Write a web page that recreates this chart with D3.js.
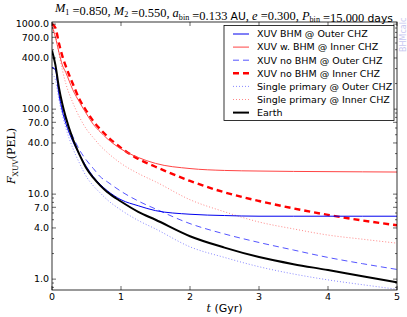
<!DOCTYPE html>
<html><head><meta charset="utf-8">
<script src="https://cdn.jsdelivr.net/npm/d3@7"></script>
<style>body{margin:0;background:#fff}svg{display:block}</style>
</head><body><div id="chart"></div>
<script>
const times = [0,0.05,0.1,0.15,0.2,0.3,0.4,0.5,0.6,0.7,0.8,1.0,1.25,1.5,2,2.5,3,3.5,4,4.5,5];
const bhmOuter   = [310,290,150,95,68,42,29,21,16,13,11,8.6,7.3,6.4,5.8,5.6,5.5,5.5,5.5,5.5,5.5];
const bhmInner   = [950,700,470,330,270,170,120,88,66,54,45,34,27,23,20,19,18.7,18.5,18.4,18.3,18.2];
const noBhmOuter = [310,290,160,100,75,48,33,25,20,16,14,10.8,8.3,6.7,4.5,3.4,2.7,2.2,1.8,1.52,1.3];
const noBhmInner = [1000,900,600,420,320,200,130,95,72,58,48,35,26,21,14.3,10.5,8.3,6.8,5.7,4.9,4.3];
const singleOuter= [260,220,130,85,60,35,23,16,12.5,10.3,8.6,6.5,4.9,3.9,2.4,1.8,1.4,1.15,0.98,0.86,0.76];
const singleInner= [900,750,450,290,200,120,80,58,46,37,31,23,17.5,14,8.6,6.2,4.7,3.9,3.3,2.95,2.65];
const earth      = [490,330,180,115,80,45,29,20,15.5,12.6,10.6,8.2,6.2,5.0,3.2,2.35,1.82,1.5,1.28,1.08,0.92];

const seriesNames = ["XUV BHM @ Outer CHZ","XUV w. BHM @ Inner CHZ","XUV no BHM @ Outer CHZ","XUV no BHM @ Inner CHZ","Single primary @ Outer CHZ","Single primary @ Inner CHZ","Earth"];
const seriesValues = [bhmOuter,bhmInner,noBhmOuter,noBhmInner,singleOuter,singleInner,earth];
const seriesStyles = [
  {color:"#0000ee",w:1,dash:null},
  {color:"#ff4444",w:1,dash:null},
  {color:"#5555ff",w:1,dash:"6,4"},
  {color:"#ff0000",w:2.4,dash:"6,4"},
  {color:"#8888ff",w:1,dash:"1,2"},
  {color:"#ff8888",w:1,dash:"1,2"},
  {color:"#000000",w:2,dash:null}
];
const xTicks = [0,1,2,3,4,5];
const yTickLabels = [1,4,7,10,40,70,100,400,700,1000];

const W=407,H=317;
const L=52,R=397,T=22,B=290;
const svg=d3.select("#chart").append("svg").attr("width",W).attr("height",H);
const x=d3.scaleLinear().domain([0,5]).range([L,R]);
const y=d3.scaleLog().domain([0.745,1060]).range([B,T]);

const defs=svg.append("defs");
defs.append("clipPath").attr("id","clip").append("rect").attr("x",L).attr("y",T).attr("width",R-L).attr("height",B-T);

const line=d3.line().x(d=>x(d[0])).y(d=>y(d[1])).curve(d3.curveMonotoneX);
const g=svg.append("g").attr("clip-path","url(#clip)");
const order=[4,5,2,3,0,1,6];
order.forEach(i=>{
  const st=seriesStyles[i];
  g.append("path").datum(times.map((t,k)=>[t,seriesValues[i][k]]))
   .attr("d",line).attr("fill","none").attr("stroke",st.color)
   .attr("stroke-width",st.w).attr("stroke-dasharray",st.dash);
});

// frame
svg.append("rect").attr("x",L).attr("y",T).attr("width",R-L).attr("height",B-T)
  .attr("fill","none").attr("stroke","#000").attr("stroke-width",0.8);

// ticks
const minor=[];
[0.1,1,10,100].forEach(dec=>{for(let m=1;m<10;m++){const v=dec*m; if(v>=0.745&&v<=1060) minor.push(v);}});
minor.push(1000);
const tickG=svg.append("g").attr("stroke","#000").attr("stroke-width",0.6);
minor.forEach(v=>{
  const isMajor=yTickLabels.includes(v);
  const len=isMajor?4:2;
  tickG.append("line").attr("x1",L).attr("x2",L+len).attr("y1",y(v)).attr("y2",y(v));
  tickG.append("line").attr("x1",R).attr("x2",R-len).attr("y1",y(v)).attr("y2",y(v));
});
xTicks.forEach(v=>{
  tickG.append("line").attr("x1",x(v)).attr("x2",x(v)).attr("y1",B).attr("y2",B-4);
  tickG.append("line").attr("x1",x(v)).attr("x2",x(v)).attr("y1",T).attr("y2",T+4);
});

const sans="'DejaVu Sans', sans-serif";
const serif="'DejaVu Serif', serif";
const mserif="'Liberation Serif', serif";
yTickLabels.forEach(v=>{
  svg.append("text").attr("x",L-3).attr("y",y(v)).attr("dy","0.35em").attr("text-anchor","end")
   .attr("font-family",sans).attr("font-size",9.5).text(v.toFixed(1));
});
xTicks.forEach(v=>{
  svg.append("text").attr("x",x(v)).attr("y",B+10).attr("text-anchor","middle")
   .attr("font-family",sans).attr("font-size",9.5).text(v);
});

// x label
const xl=svg.append("text").attr("x",(L+R)/2).attr("y",312).attr("text-anchor","middle").attr("font-size",11);
xl.append("tspan").attr("font-family",serif).attr("font-style","italic").text("t");
xl.append("tspan").attr("font-family",sans).text(" (Gyr)");

// y label
const yl=svg.append("text").attr("transform","translate(15,156) rotate(-90)").attr("text-anchor","middle").attr("font-family",serif).attr("font-size",11);
yl.append("tspan").attr("font-style","italic").text("F");
yl.append("tspan").attr("font-size",7.5).attr("dy",3).text("XUV");
yl.append("tspan").attr("dy",-3).text("(PEL)");

// title
const tt=svg.append("text").attr("x",224).attr("y",12).attr("text-anchor","middle").attr("font-size",11.5);
function it(s){tt.append("tspan").attr("font-family",mserif).attr("font-style","italic").text(s);}
function sub(s){tt.append("tspan").attr("font-family",mserif).attr("font-size",7.5).attr("dy",2.5).text(s);tt.append("tspan").attr("dy",-2.5).text("");}
function nm(s){tt.append("tspan").attr("font-family",mserif).text(s);}
function sn(s){tt.append("tspan").attr("font-family",sans).attr("font-size",10).text(s);}
it("M");sub("1");nm(" =0.850, ");it("M");sub("2");nm(" =0.550, ");it("a");sub("bin");nm(" =0.133 ");sn("AU");nm(", ");it("e");nm(" =0.300, ");it("P");sub("bin");nm(" =15.000 ");sn("days");
const tw=tt.node().getComputedTextLength();
if(tw>0){ tt.attr("textLength",338).attr("lengthAdjust","spacingAndGlyphs"); }

// legend
const lg=svg.append("g");
lg.append("rect").attr("x",224).attr("y",25.5).attr("width",170).attr("height",95).attr("fill","#fff").attr("stroke","#000").attr("stroke-width",0.8);
seriesNames.forEach((n,i)=>{
  const yy=34+i*13.1, st=seriesStyles[i];
  lg.append("line").attr("x1",233).attr("x2",249).attr("y1",yy).attr("y2",yy)
    .attr("stroke",st.color).attr("stroke-width",st.w).attr("stroke-dasharray",st.dash);
  lg.append("text").attr("x",257).attr("y",yy).attr("dy","0.35em").attr("font-family",sans).attr("font-size",9.5).text(n);
});

// watermark
svg.append("text").attr("transform","translate(406,52) rotate(-90)").attr("font-family",sans).attr("font-size",8).attr("fill","#c8c8f0").text("BHMcalc");
</script></body></html>
